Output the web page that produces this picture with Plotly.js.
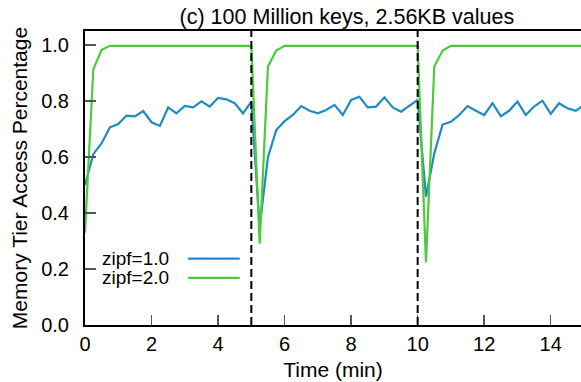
<!DOCTYPE html>
<html>
<head>
<meta charset="utf-8">
<script src="https://cdn.plot.ly/plotly-3.0.1.min.js"></script>
<style>html,body{margin:0;padding:0;background:#fff;}#chart{width:581px;height:382px;}</style>
</head>
<body>
<div id="chart"></div>
<script>
// Time in minutes (sampled every 15 s)
const timeMin = [0,0.25,0.5,0.75,1,1.25,1.5,1.75,2,2.25,2.5,2.75,3,3.25,3.5,3.75,4,4.25,4.5,4.75,5,
  5.25,5.5,5.75,6,6.25,6.5,6.75,7,7.25,7.5,7.75,8,8.25,8.5,8.75,9,9.25,9.5,9.75,10,
  10.25,10.5,10.75,11,11.25,11.5,11.75,12,12.25,12.5,12.75,13,13.25,13.5,13.75,14,14.25,14.5,14.75,15];

const zipf10 = [0.50,0.61,0.649,0.706,0.718,0.748,0.745,0.764,0.724,0.711,0.777,0.756,0.782,0.777,0.799,0.780,0.811,0.806,0.792,0.756,0.798,
  0.35,0.600,0.696,0.728,0.750,0.782,0.765,0.756,0.768,0.786,0.750,0.804,0.815,0.777,0.780,0.813,0.777,0.762,0.782,0.804,
  0.458,0.613,0.716,0.726,0.750,0.782,0.765,0.750,0.792,0.746,0.765,0.798,0.750,0.780,0.801,0.754,0.792,0.774,0.765,0.786];

const zipf20 = [0.33,0.913,0.983,0.997,0.997,0.997,0.997,0.997,0.997,0.997,0.997,0.997,0.997,0.997,0.997,0.997,0.997,0.997,0.997,0.997,0.997,
  0.290,0.923,0.980,0.997,0.997,0.997,0.997,0.997,0.997,0.997,0.997,0.997,0.997,0.997,0.997,0.997,0.997,0.997,0.997,0.997,
  0.223,0.923,0.980,0.997,0.997,0.997,0.997,0.997,0.997,0.997,0.997,0.997,0.997,0.997,0.997,0.997,0.997,0.997,0.997,0.997];

const seriesNames = ['zipf=1.0', 'zipf=2.0'];
const seriesColors = ['#1f8bc6', '#4bca3c'];
const phaseBoundaries = [5, 10];
const xTicks = [0,2,4,6,8,10,12,14];
const yTicks = [0,0.2,0.4,0.6,0.8,1.0];
const yTickText = ['0.0','0.2','0.4','0.6','0.8','1.0'];

const FONT = 'Liberation Sans, Arial, sans-serif';

const traces = [zipf10, zipf20].map((ys, i) => ({
  x: timeMin, y: ys, type: 'scatter', mode: 'lines',
  name: seriesNames[i], showlegend: false,
  line: {color: seriesColors[i], width: 2.2}
}));

const shapes = phaseBoundaries.map(b => ({
  type: 'line', xref: 'x', yref: 'paper', x0: b, x1: b, y0: 0, y1: 1,
  line: {color: '#000', width: 2, dash: '8px,4px'}, layer: 'above'
}));

// manual gnuplot-style legend: text then line sample
const legRows = [0.226, 0.160];
const annotations = [];
seriesNames.forEach((n, i) => {
  annotations.push({xref: 'paper', yref: 'paper', x: 0.173, y: legRows[i], xanchor: 'right', yanchor: 'middle',
    text: n, showarrow: false, font: {family: FONT, size: 19, color: '#000'}});
  shapes.push({type: 'line', xref: 'paper', yref: 'paper', x0: 0.208, x1: 0.312, y0: legRows[i], y1: legRows[i],
    line: {color: seriesColors[i], width: 2.2}});
});

const layout = {
  width: 581, height: 382,
  margin: {l: 85, r: 0, t: 31, b: 57},
  paper_bgcolor: '#fff', plot_bgcolor: '#fff',
  font: {family: FONT, size: 20, color: '#000'},
  title: {text: '(c) 100 Million keys, 2.56KB values', font: {family: FONT, size: 21.5, color: '#000'},
    xref: 'paper', x: 0.528, xanchor: 'center', yref: 'container', y: 0.958, yanchor: 'middle'},
  xaxis: {range: [0, 14.91], tickvals: xTicks, ticks: 'inside', ticklen: 10, tickwidth: 1.5, tickcolor: '#555',
    showline: true, linecolor: '#000', linewidth: 2, mirror: true, showgrid: false, zeroline: false,
    tickfont: {family: FONT, size: 20}, ticklabelstandoff: 0,
    title: {text: 'Time (min)', font: {family: FONT, size: 21}, standoff: 8}},
  yaxis: {range: [0, 1.05], tickvals: yTicks, ticktext: yTickText, ticks: 'inside', ticklen: 11, tickwidth: 1.5, tickcolor: '#555',
    showline: true, linecolor: '#000', linewidth: 2, mirror: false, showgrid: false, zeroline: false,
    tickfont: {family: FONT, size: 20}, ticklabelstandoff: 10,
    title: {text: 'Memory Tier Access Percentage', font: {family: FONT, size: 21}, standoff: 8}},
  shapes: shapes,
  annotations: annotations,
  showlegend: false
};

Plotly.newPlot('chart', traces, layout, {displayModeBar: false, staticPlot: true});
</script>
</body>
</html>
